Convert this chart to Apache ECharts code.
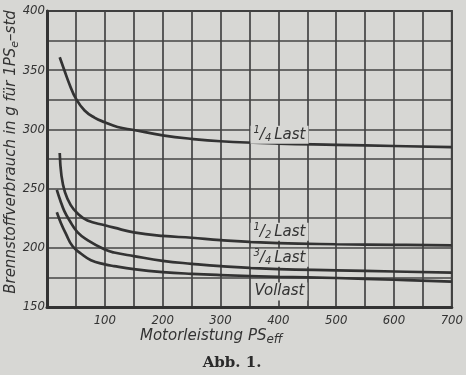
<!DOCTYPE html>
<html><head><meta charset="utf-8">
<script src="https://cdn.jsdelivr.net/npm/echarts@6/dist/echarts.min.js"></script>
<style>html,body{margin:0;padding:0;background:#d7d7d4;}#c{width:466px;height:375px;}</style>
</head><body><div id="c"></div>
<script>
// ---- data ----
const quarterX = [22, 30, 39, 50, 65, 82, 100, 122, 150, 200, 250, 300, 400, 500, 600, 700];
const quarterY = [361, 350, 338, 326, 316, 310, 306, 302, 299.5, 295, 292, 290, 288, 287, 286, 285];
const halfX = [22, 25, 31, 41, 53, 70, 100, 116, 150, 200, 250, 300, 400, 500, 600, 700];
const halfY = [280, 261, 247, 236, 229, 223, 219, 217, 213, 210, 208.5, 206.5, 204, 203, 202.5, 202];
const threeQX = [17, 23, 30, 39, 53, 70, 100, 116, 150, 200, 250, 300, 400, 500, 600, 700];
const threeQY = [249, 240, 231, 223, 213, 206.5, 198.5, 196, 193, 189, 186.5, 184.5, 182, 181, 180, 179];
const fullX = [17, 24, 33, 44, 59, 76, 100, 116, 150, 200, 250, 300, 400, 500, 600, 700];
const fullY = [230, 221, 211.5, 201.5, 195, 189.5, 186, 184.5, 182, 179.5, 178, 177, 175.5, 174.5, 173, 171.5];
const seriesNames = ['1/4 Last', '1/2 Last', '3/4 Last', 'Vollast'];
const xTickLabels = [100, 200, 300, 400, 500, 600, 700];
const yTickLabels = [150, 200, 250, 300, 350, 400];
const yTitle = 'Brennstoffverbrauch in g für 1PS';
const yTitleSub = 'e';
const yTitleEnd = '–std';
const xTitle = 'Motorleistung PS';
const xTitleSub = 'eff';
const caption = 'Abb. 1.';

const zip = (xs, ys) => xs.map((x, i) => [x, ys[i]]);
const PAPER = '#d7d7d4';
const INK = '#333333';
const tickFont = "'Liberation Sans Narrow', 'DejaVu Sans Condensed', 'Liberation Sans', sans-serif";
const labelFont = "'DejaVu Sans', sans-serif";

// rich-text version of a label: fraction "n/d Last" drawn as small numerator, slash, small denominator
function labelText(name) {
  const m = name.match(/^(\d)\/(\d) (.*)$/);
  if (!m) return '{t|' + name + '}';
  return '{n|' + m[1] + '}{s|/}{d|' + m[2] + '}{t|' + m[3] + '}';
}
const labelRich = {
  t: { fontFamily: labelFont, fontStyle: 'italic', fontSize: 15, color: '#333', lineHeight: 18, verticalAlign: 'middle' },
  n: { fontFamily: labelFont, fontStyle: 'italic', fontSize: 10, color: '#333', lineHeight: 18, verticalAlign: 'top' },
  s: { fontFamily: labelFont, fontStyle: 'italic', fontSize: 15, color: '#333', lineHeight: 18, verticalAlign: 'middle' },
  d: { fontFamily: labelFont, fontStyle: 'italic', fontSize: 10, color: '#333', lineHeight: 18, verticalAlign: 'bottom', padding: [0, 3, 0, 0] }
};

function curve(name, xs, ys, coord) {
  return {
    name, type: 'line', data: zip(xs, ys), showSymbol: false, smooth: 0.45,
    lineStyle: { color: INK, width: 2.7 }, silent: true,
    markPoint: {
      symbol: 'rect', symbolSize: 1, itemStyle: { color: 'rgba(0,0,0,0)' }, silent: true,
      label: { show: true, position: 'inside', formatter: labelText(name), rich: labelRich,
        backgroundColor: PAPER, padding: [0, 3, 0, 3] },
      data: [{ coord }]
    }
  };
}

const chart = echarts.init(document.getElementById('c'));
chart.setOption({
  backgroundColor: PAPER,
  animation: false,
  grid: { left: 47, right: 12, top: 11, bottom: 68, show: true, borderColor: INK, borderWidth: 2, backgroundColor: 'transparent' },
  xAxis: {
    type: 'value', min: 0, max: 700, interval: 50,
    axisLine: { show: true, lineStyle: { color: INK, width: 3 } },
    axisTick: { show: false },
    splitLine: { show: true, lineStyle: { color: '#444', width: 1.7 } },
    axisLabel: {
      margin: 7, color: INK, fontFamily: tickFont, fontStyle: 'italic', fontSize: 13,
      formatter: v => xTickLabels.includes(v) ? String(v) : ''
    }
  },
  yAxis: {
    type: 'value', min: 150, max: 400, interval: 25,
    axisLine: { show: true, lineStyle: { color: INK, width: 3 } },
    axisTick: { show: false },
    splitLine: { show: true, lineStyle: { color: '#444', width: 1.7 } },
    axisLabel: {
      margin: 2, color: INK, fontFamily: tickFont, fontStyle: 'italic', fontSize: 13,
      formatter: v => yTickLabels.includes(v) ? String(v) : ''
    }
  },
  series: [
    curve(seriesNames[0], quarterX, quarterY, [402, 295.5]),
    curve(seriesNames[1], halfX, halfY, [402, 213.5]),
    curve(seriesNames[2], threeQX, threeQY, [402, 191.5]),
    curve(seriesNames[3], fullX, fullY, [402, 163])
  ],
  graphic: [
    {
      type: 'text', x: 11, y: 152, rotation: Math.PI / 2,
      style: {
        text: '{a|' + yTitle + '}{b|' + yTitleSub + '}{a|' + yTitleEnd + '}',
        align: 'center', verticalAlign: 'middle',
        rich: {
          a: { fontFamily: labelFont, fontStyle: 'italic', fontSize: 15, fill: INK, lineHeight: 20, verticalAlign: 'middle' },
          b: { fontFamily: labelFont, fontStyle: 'italic', fontSize: 11, fill: INK, lineHeight: 20, verticalAlign: 'bottom' }
        }
      }
    },
    {
      type: 'text', x: 140, y: 336,
      style: {
        text: '{a|' + xTitle + '}{b|' + xTitleSub + '}',
        align: 'left', verticalAlign: 'middle',
        rich: {
          a: { fontFamily: labelFont, fontStyle: 'italic', fontSize: 15, fill: INK, lineHeight: 20, verticalAlign: 'middle' },
          b: { fontFamily: labelFont, fontStyle: 'italic', fontSize: 12, fill: INK, lineHeight: 20, verticalAlign: 'bottom' }
        }
      }
    },
    {
      type: 'text', x: 232, y: 363,
      style: { text: caption, align: 'center', verticalAlign: 'middle', fontFamily: "'DejaVu Serif', serif", fontWeight: 'bold', fontSize: 15, fill: '#2a2a2a' }
    }
  ]
});
</script></body></html>
